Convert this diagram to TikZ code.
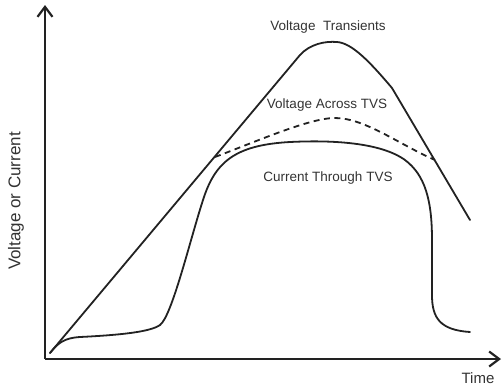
\documentclass[tikz,border=0pt]{standalone}
\usepackage{fontspec}
\setmainfont{Liberation Sans}
\usepackage{tikz}
\usetikzlibrary{arrows.meta}
\definecolor{inkgray}{HTML}{222222}
\definecolor{txtgray}{HTML}{333333}

\begin{document}
\begin{tikzpicture}[x=1pt,y=-1pt,
  axis/.style={draw=inkgray,line width=2.2pt,->},
  curve/.style={draw=inkgray,line width=1.8pt,line join=round,line cap=round},
  clamp/.style={curve,dash pattern=on 6pt off 4.5pt,line cap=butt},
  lbl/.style={text=txtgray,font=\fontsize{13.5}{16}\selectfont,inner sep=0pt},
  >={Straight Barb[length=10pt,width=15pt]}]
  \useasboundingbox (0,0) rectangle (502,389);

  % axes
  \coordinate (o) at (45,359);
  \coordinate (ytop) at (45,5);
  \coordinate (xend) at (501,359);
  \draw[axis] (o) -- (ytop);
  \draw[axis] (o) -- (xend);
  \node[text=txtgray,font=\fontsize{15}{18}\selectfont,inner sep=0pt] (tlab) at (478,378) {Time};
  \node[text=txtgray,font=\fontsize{17}{20}\selectfont,inner sep=0pt,rotate=90] (vlab) at (16,201) {Voltage or Current};

  % voltage transient
  \coordinate (start) at (50,353);
  \coordinate (knee) at (215,157);
  \coordinate (meet) at (435,160);
  \draw[curve] (start) -- (300,55) .. controls (310,44) and (325,41) .. (337,42)
    .. controls (352,43) and (370,62) .. (392,88) -- (470,220);

  % clamped voltage
  \draw[clamp] (knee) .. controls (260,140) and (310,118) .. (335,118)
    .. controls (365,118) and (400,145) .. (meet);

  % current through the device
  \draw[curve] (start) .. controls (58,343) and (64,338) .. (80,337)
    .. controls (120,335) and (150,332) .. (160,325)
    .. controls (172,316) and (190,240) .. (203,200)
    .. controls (215,162) and (235,145) .. (290,142)
    .. controls (330,140) and (380,142) .. (405,160)
    .. controls (425,175) and (432,200) .. (432,240)
    -- (432,295)
    .. controls (432,318) and (440,330) .. (470,332);

  \node[lbl] (vt) at (328,27) {Voltage\ \ Transients};
  \node[lbl] (va) at (327,105) {Voltage Across TVS};
  \node[lbl] (ct) at (328,178) {Current Through TVS};
\end{tikzpicture}
\end{document}
